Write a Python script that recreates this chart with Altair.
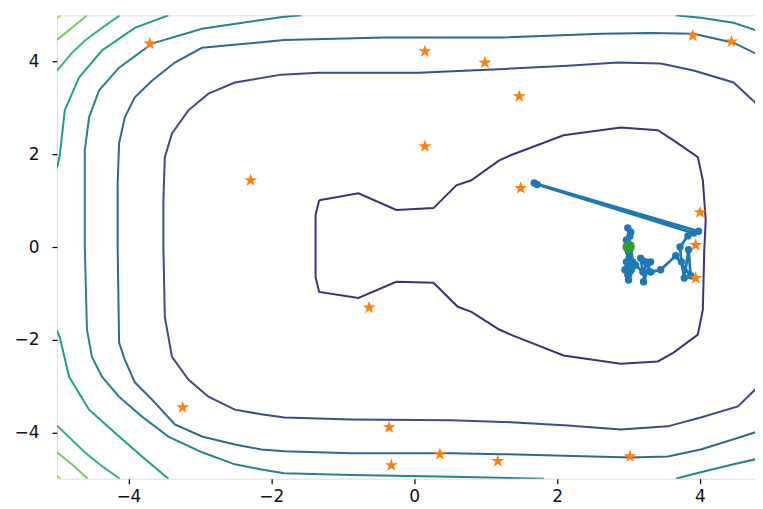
import altair as alt
import pandas as pd

# ---- contour levels (inner -> outer), viridis-like colours ----
level_names = ["L1", "L2", "L3", "L4", "L5", "L6", "L7", "L8"]
level_colors = ["#472d7b", "#3e4a89", "#31688e", "#26828e", "#1f9e89", "#35b779", "#6ece58", "#b5de2b"]

# innermost closed contour
L1_x = [-1.33, -0.78, -0.25, 0.27, 0.59, 0.80, 1.19, 1.35, 2.09, 2.89, 3.41, 3.63, 3.97, 4.04, 4.08, 4.06,
        4.04, 3.97, 3.63, 3.41, 2.89, 2.09, 1.35, 1.19, 0.80, 0.61, 0.27, -0.25, -0.78, -1.33, -1.38, -1.38, -1.33]
L1_y = [1.01, 1.16, 0.80, 0.84, 1.33, 1.44, 1.87, 1.98, 2.41, 2.58, 2.52, 2.30, 1.94, 1.44, 0.58, -0.06,
        -1.35, -1.89, -2.28, -2.47, -2.52, -2.34, -1.89, -1.78, -1.40, -1.29, -0.77, -0.75, -1.10, -0.97, -0.65, 0.69, 1.01]

L2_x = [5.0, 4.89, 4.47, 3.91, 3.45, 2.85, 2.15, 1.35, 0.06, -1.34, -1.86, -2.28, -2.51, -2.88, -3.16, -3.39, -3.49,
        -3.51, -3.51, -3.49, -3.39, -3.16, -2.88, -2.51, -2.14, -1.82, -0.88, 0.52, 1.35, 2.15, 2.89, 3.55, 4.01, 4.53, 4.89, 5.0]
L2_y = [2.77, 2.95, 3.55, 3.81, 3.96, 3.98, 3.91, 3.85, 3.76, 3.76, 3.72, 3.61, 3.55, 3.31, 2.95, 2.45, 1.94,
        1.01, 0.0, -1.51, -2.37, -2.86, -3.23, -3.51, -3.61, -3.68, -3.72, -3.74, -3.78, -3.85, -3.94, -3.87, -3.68, -3.44, -2.90, -2.69]

L3_x = [5.0, 4.89, 4.47, 3.91, 3.31, 2.62, 1.22, -0.42, -1.82, -2.21, -2.97, -3.35, -3.67, -3.91, -4.05, -4.13, -4.15,
        -4.15, -4.13, -4.05, -3.91, -3.67, -3.35, -2.97, -2.51, -2.14, -1.82, -0.88, 0.52, 1.22, 3.03, 3.55, 4.01, 4.47, 4.89, 5.0]
L3_y = [4.0, 4.09, 4.41, 4.60, 4.62, 4.60, 4.52, 4.52, 4.47, 4.41, 4.30, 3.98, 3.59, 3.23, 2.80, 2.24, 1.38,
        0.0, -2.06, -2.43, -2.92, -3.29, -3.83, -4.09, -4.26, -4.37, -4.41, -4.45, -4.45, -4.47, -4.54, -4.52, -4.37, -4.15, -3.94, -3.85]

L4a_x = [-1.58, -1.82, -2.14, -2.97, -3.67, -4.13, -4.41, -4.55, -4.61, -4.61, -4.58, -4.51, -4.37, -4.13, -3.81,
         -3.44, -2.97, -2.51, -2.14, -1.82, -0.88, 0.52, 1.82]
L4a_y = [5.0, 4.97, 4.90, 4.71, 4.39, 3.87, 3.38, 2.80, 2.09, 0.0, -1.78, -2.37, -2.80, -3.23, -3.66,
         -4.09, -4.43, -4.69, -4.80, -4.88, -4.92, -4.96, -5.0]
L4b_x = [3.66, 4.01, 4.47, 4.89, 5.0]
L4b_y = [5.0, 4.95, 4.84, 4.62, 4.52]
L4c_x = [3.66, 4.01, 4.47, 4.89, 5.0]
L4c_y = [-5.0, -4.86, -4.69, -4.54, -4.47]

L5a_x = [-3.44, -3.91, -4.37, -4.69, -4.89, -4.96, -5.0]
L5a_y = [5.0, 4.73, 4.24, 3.66, 2.95, 1.98, 1.7]
L5b_x = [-5.0, -4.96, -4.83, -4.55, -4.13, -3.81, -3.44]
L5b_y = [-1.8, -1.95, -2.80, -3.51, -4.09, -4.52, -5.0]

L6a_x = [-5.0, -4.79, -4.61, -4.37, -4.12]
L6a_y = [3.80, 4.19, 4.45, 4.73, 5.0]
L6b_x = [-5.0, -4.61, -4.37, -4.12]
L6b_y = [-3.85, -4.43, -4.73, -5.0]

L7a_x = [-5.0, -4.79, -4.58]
L7a_y = [4.47, 4.73, 5.0]
L7b_x = [-5.0, -4.79, -4.57]
L7b_y = [-4.43, -4.69, -5.0]

L8a_x = [-5.0, -4.95]
L8a_y = [4.93, 5.0]
L8b_x = [-5.0, -4.95]
L8b_y = [-4.93, -5.0]

# ---- sampled points (orange stars) ----
star_x = [-3.70, 0.15, 0.99, 1.47, -2.29, 0.15, 1.49, 3.90, 4.44, 4.93, 4.00, 3.94, 3.94, -0.63, -3.24,
          -0.35, -0.32, 0.36, 1.17, 3.02]
star_y = [4.39, 4.22, 3.98, 3.25, 1.44, 2.17, 1.27, 4.56, 4.43, 4.02, 0.75, 0.04, -0.67, -1.31, -3.46,
          -3.89, -4.71, -4.47, -4.62, -4.52]

# ---- optimisation path (blue) ----
path_x = [1.68, 3.98, 1.72, 3.91, 3.83, 3.72, 3.74, 3.78, 3.84, 3.87, 3.66, 3.45, 3.31, 3.24, 3.21, 3.31, 3.17,
          3.20, 3.10, 3.00, 2.97, 3.03, 2.97, 3.04, 2.99, 3.00, 3.02, 2.99, 3.06, 2.95, 3.03, 3.03]
path_y = [1.38, 0.34, 1.35, 0.30, 0.24, 0.00, -0.32, -0.67, -0.06, -0.62, -0.19, -0.49, -0.54, -0.32, -0.75, -0.32,
          -0.24, -0.54, -0.39, -0.71, -0.32, 0.32, 0.15, -0.49, -0.60, -0.11, 0.24, 0.41, -0.32, -0.49, 0.04, -0.02]

# ---- optimum (green) ----
best_x = [3.0]
best_y = [0.0]

# visible x-range (the reference image cuts the plot just before x = 5)
x_domain = [-5.0, 4.77]
y_domain = [-5.0, 5.0]
tick_values = [-4, -2, 0, 2, 4]

segments = [
    ("L1", L1_x, L1_y), ("L2", L2_x, L2_y), ("L3", L3_x, L3_y),
    ("L4", L4a_x, L4a_y), ("L4", L4b_x, L4b_y), ("L4", L4c_x, L4c_y),
    ("L5", L5a_x, L5a_y), ("L5", L5b_x, L5b_y),
    ("L6", L6a_x, L6a_y), ("L6", L6b_x, L6b_y),
    ("L7", L7a_x, L7a_y), ("L7", L7b_x, L7b_y),
    ("L8", L8a_x, L8a_y), ("L8", L8b_x, L8b_y),
]
rows = []
for sid, (lev, xs_, ys_) in enumerate(segments):
    for i, (xv, yv) in enumerate(zip(xs_, ys_)):
        rows.append({"seg": sid, "level": lev, "i": i, "x": xv, "y": yv})
contour_df = pd.DataFrame(rows)
star_df = pd.DataFrame({"x": star_x, "y": star_y})
path_df = pd.DataFrame({"x": path_x, "y": path_y, "i": list(range(len(path_x)))})
best_df = pd.DataFrame({"x": best_x, "y": best_y})

xs = alt.Scale(domain=x_domain, nice=False, zero=False)
ys = alt.Scale(domain=y_domain, nice=False, zero=False)
x_axis = alt.Axis(values=tick_values, format="d", title=None, grid=False, domain=False, tickSize=5,
                  tickWidth=1.2, tickColor="black", labelPadding=5, labelFont="DejaVu Sans",
                  labelFontSize=17, labelColor="#111111", labelFlush=False)
y_axis = alt.Axis(values=tick_values, format="d", title=None, grid=False, domain=False, tickSize=5,
                  tickWidth=1.2, tickColor="black", labelPadding=13, labelFont="DejaVu Sans",
                  labelFontSize=17, labelColor="#111111", minExtent=43, maxExtent=43, labelFlush=False)

contours = alt.Chart(contour_df).mark_line(strokeWidth=2.0, clip=True).encode(
    x=alt.X("x:Q", scale=xs, axis=x_axis),
    y=alt.Y("y:Q", scale=ys, axis=y_axis),
    color=alt.Color("level:N", scale=alt.Scale(domain=level_names, range=level_colors), legend=None),
    detail="seg:N",
    order="i:Q",
)

path_line = alt.Chart(path_df).mark_line(color="#1f77b4", strokeWidth=2.8, clip=True).encode(
    x=alt.X("x:Q", scale=xs), y=alt.Y("y:Q", scale=ys), order="i:Q")
path_pts = alt.Chart(path_df).mark_circle(color="#1f77b4", size=55, opacity=1, clip=True).encode(
    x=alt.X("x:Q", scale=xs), y=alt.Y("y:Q", scale=ys))

star_path = ("M0,-1 L0.2245,-0.309 L0.951,-0.309 L0.363,0.118 L0.588,0.809 L0,0.382 "
             "L-0.588,0.809 L-0.363,0.118 L-0.951,-0.309 L-0.2245,-0.309 Z")
stars = alt.Chart(star_df).mark_point(shape=star_path, filled=True, color="#ff7f0e", size=190,
                                      opacity=1, strokeWidth=0, clip=True).encode(
    x=alt.X("x:Q", scale=xs), y=alt.Y("y:Q", scale=ys))

best = alt.Chart(best_df).mark_circle(color="#2ca02c", size=150, opacity=1, clip=True).encode(
    x=alt.X("x:Q", scale=xs), y=alt.Y("y:Q", scale=ys))

chart = alt.layer(contours, path_line, path_pts, stars, best).properties(
    width=699, height=464,
    padding={"left": 5, "top": 7, "right": 0, "bottom": 0},
).configure_view(stroke="black", strokeWidth=1.2).configure(background="white")

chart.save("out.html", embed_options={"renderer": "svg", "actions": False})
